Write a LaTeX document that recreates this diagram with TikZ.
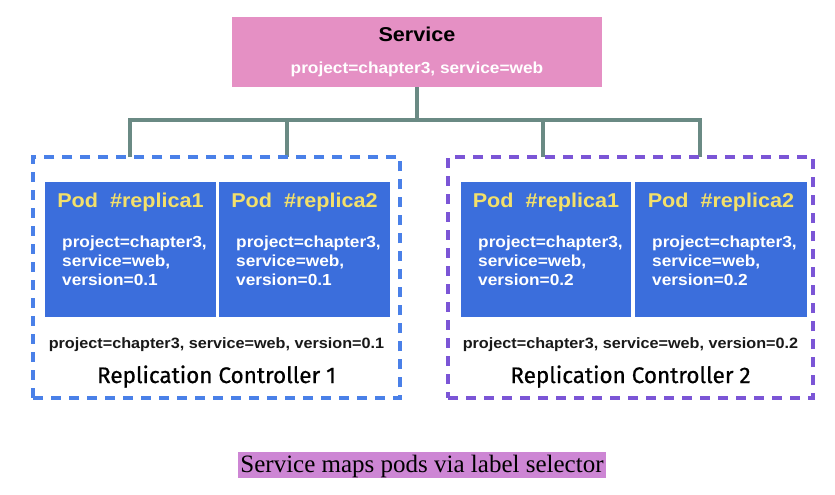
\documentclass[tikz,border=0pt]{standalone}
\usepackage{fontspec}
\setmainfont{Liberation Serif}
\newfontfamily\hv[FakeStretch=1.08]{Liberation Sans}
\newfontfamily\rcf[FakeBold=0.6]{Fira Sans}
\usetikzlibrary{calc}
\definecolor{svcpink}{HTML}{E590C4}
\definecolor{conncol}{HTML}{6A8A84}
\definecolor{podblue}{HTML}{3B6EDC}
\definecolor{podyel}{HTML}{F3E06A}
\definecolor{rcblue}{HTML}{4A80E8}
\definecolor{rcpurple}{HTML}{7B55D6}
\definecolor{capbg}{HTML}{CD86D4}
\tikzset{
  boxbase/.style={rectangle,inner sep=0pt,outer sep=0pt,anchor=north west},
  svcbox/.style={boxbase,fill=svcpink},
  podbox/.style={boxbase,fill=podblue,minimum height=135pt},
  rcbox/.style={boxbase,draw=#1,line width=3.5pt,dash pattern=on 10pt off 8pt,minimum height=241pt},
  conn/.style={draw=conncol,line width=4.5pt},
  svctitle/.style={anchor=base,inner sep=0pt,font=\hv\bfseries\fontsize{20}{24}\selectfont,text=black},
  svclbl/.style={anchor=base,inner sep=0pt,font=\hv\bfseries\fontsize{16}{19}\selectfont,text=white},
  podtitle/.style={anchor=base,inner sep=0pt,font=\hv\bfseries\fontsize{20}{24}\selectfont,text=podyel},
  podlbl/.style={anchor=base west,inner sep=0pt,font=\hv\bfseries\fontsize{16}{19}\selectfont,text=white},
  rclbl/.style={anchor=base,inner sep=0pt,font=\hv\bfseries\fontsize{15}{18}\selectfont,text=black!90},
  rctitle/.style={anchor=base,inner sep=0pt,font=\rcf\fontsize{22.5}{27}\selectfont,text=black},
  caption/.style={anchor=base,fill=capbg,inner xsep=2pt,inner ysep=0pt,text height=20pt,text depth=6pt,font=\fontsize{25}{30}\selectfont}
}
\newcommand\podtxt[3]{%
  \node[podtitle] (#1t) at ($(#1.north)+(0,25)$) {Pod\ \ \#replica#2};
  \node[podlbl] (#1a) at ($(#1.north west)+(17,65)$) {project=chapter3,};
  \node[podlbl] (#1b) at ($(#1.north west)+(17,84)$) {service=web,};
  \node[podlbl] (#1c) at ($(#1.north west)+(17,103)$) {version=#3};
}
\begin{document}
\begin{tikzpicture}[x=1pt,y=-1pt]
\useasboundingbox (0,0) rectangle (835,495);
% service
\node[svcbox,minimum width=370pt,minimum height=70pt] (svc) at (232,17) {};
\node[svctitle] (svct) at ($(svc.north)+(0,25)$) {Service};
\node[svclbl] (svcl) at ($(svc.north)+(0,57)$) {project=chapter3, service=web};
% replication controllers
\node[rcbox=rcblue,minimum width=367pt] (rc1) at (33,157) {};
\node[rcbox=rcpurple,minimum width=365pt] (rc2) at (448,157) {};
% connectors
\coordinate (hub) at (svc.south |- 0,120);
\coordinate (j1) at (130,120);
\coordinate (j2) at (287,120);
\coordinate (j3) at (543,120);
\coordinate (j4) at (700,120);
\draw[conn] (svc.south) -- (hub);
\draw[conn] (j1 |- rc1.north) -- (j1) -- (j4) -- (j4 |- rc2.north);
\draw[conn] (j2) -- (j2 |- rc1.north);
\draw[conn] (j3) -- (j3 |- rc2.north);
% redraw dashed borders on top of connectors
\node[rcbox=rcblue,minimum width=367pt] (rc1b) at (33,157) {};
\node[rcbox=rcpurple,minimum width=365pt] (rc2b) at (448,157) {};
% pods
\node[podbox,minimum width=171pt] (p11) at (45,182) {};
\node[podbox,minimum width=171pt] (p12) at (219,182) {};
\node[podbox,minimum width=170pt] (p21) at (461,182) {};
\node[podbox,minimum width=172pt] (p22) at (635,182) {};
\podtxt{p11}{1}{0.1}
\podtxt{p12}{2}{0.1}
\podtxt{p21}{1}{0.2}
\podtxt{p22}{2}{0.2}
% rc labels
\node[rclbl] (rc1l) at ($(rc1.north)+(0,191)$) {project=chapter3, service=web, version=0.1};
\node[rctitle] (rc1t) at ($(rc1.north)+(0,226)$) {Replication Controller 1};
\node[rclbl] (rc2l) at ($(rc2.north)+(0,191)$) {project=chapter3, service=web, version=0.2};
\node[rctitle] (rc2t) at ($(rc2.north)+(0,226)$) {Replication Controller 2};
% caption
\node[caption] (cap) at (422,472) {Service maps pods via label selector};
\end{tikzpicture}
\end{document}
